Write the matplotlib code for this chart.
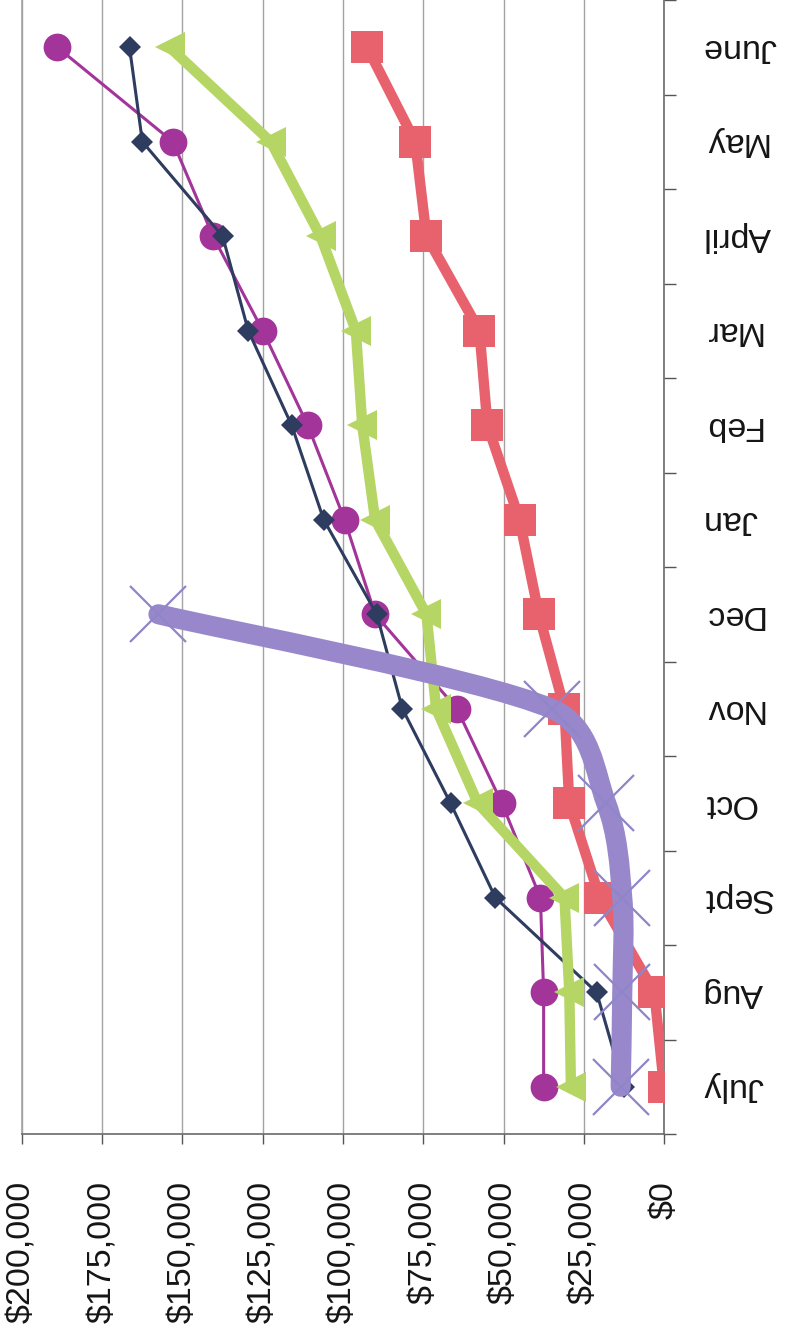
import matplotlib
matplotlib.use('Agg')
import matplotlib.pyplot as plt
import numpy as np
from matplotlib.path import Path
from matplotlib.patches import PathPatch
from matplotlib.ticker import FuncFormatter

plt.rcParams['font.family'] = ['Liberation Sans', 'DejaVu Sans']

months = ['July', 'Aug', 'Sept', 'Oct', 'Nov', 'Dec',
          'Jan', 'Feb', 'Mar', 'April', 'May', 'June']
navy = [12500, 21000, 52500, 66500, 81500, 89500,
        106000, 116000, 129500, 137500, 162500, 166500]
magenta = [37500, 37500, 38500, 50500, 64500, 90000,
           99500, 111000, 125000, 140500, 153000, 189000]
green = [29000, 29500, 31000, 58000, 71000, 74000,
         90000, 94000, 96000, 107000, 122500, 154000]
pink = [0, 3000, 20000, 29500, 31000, 39000,
        45000, 55000, 57500, 74000, 77500, 92500]
purple = [13500, 13000, 13000, 18000, 35000, 157500]
value_ticks = list(range(0, 200001, 25000))


def smooth_path(ax, xs, ys):
    # smoothed line: bezier through the points, handles worked out in pixels
    q = ax.transData.transform(np.column_stack([xs, ys]).astype(float))
    n = len(q)
    tang = []
    for i in range(n):
        a = q[i - 1] if i > 0 else q[i]
        b = q[i + 1] if i + 1 < n else q[i]
        tang.append((b - a) / 2.0)
    verts = [q[0]]
    codes = [Path.MOVETO]
    for i in range(n - 1):
        seg = np.hypot(*(q[i + 1] - q[i]))
        h = []
        for t in (tang[i], tang[i + 1]):
            ln = np.hypot(*t)
            if ln > 0:
                h.append(t / ln * min(ln / 3.0, seg * 0.4))
            else:
                h.append(t)
        verts += [q[i] + h[0], q[i + 1] - h[1], q[i + 1]]
        codes += [Path.CURVE4] * 3
    verts = ax.transData.inverted().transform(np.array(verts))
    return Path(verts, codes)


fig = plt.figure(figsize=(7.88, 13.34), dpi=100)
ax = fig.add_axes([22 / 788, 200 / 1334, 642 / 788, 1134 / 1334])
ax.set_xlim(200000, 0)
ax.set_ylim(-0.5, 11.5)

series = [
    (magenta, 'o', 20, '#A3359A', 2.2, 2),
    (navy, 'D', 11.5, '#2E3D5F', 2.2, 3),
    (green, '<', 21, '#B5D565', 7.5, 4),
    (pink, 's', 23, '#E8626D', 7.5, 5),
]
for vals, mk, ms, col, lw, z in series:
    ypos = np.arange(len(vals))
    ax.plot(vals, ypos, color=col, lw=lw, solid_capstyle='round', solid_joinstyle='round',
            marker=mk, markersize=ms, markerfacecolor=col, markeredgecolor=col,
            markeredgewidth=0, zorder=z)

ypos = np.arange(len(purple))
ax.add_patch(PathPatch(smooth_path(ax, purple, ypos), fill=False, edgecolor='#9987CC', lw=14.5,
                       capstyle='round', joinstyle='round', zorder=6))
ax.plot(purple, ypos, linestyle='none', marker='x', markersize=41,
        markeredgecolor='#8E86C8', markeredgewidth=1.6, zorder=6.1)

ax.set_xticks(value_ticks)
ax.xaxis.set_major_formatter(FuncFormatter(lambda v, p: '${:,.0f}'.format(v)))
ax.tick_params(axis='x', direction='out', length=7, width=1, color='#555555',
               pad=27, labelsize=24.5, labelrotation=90, labelcolor='#151515')

ax.yaxis.tick_right()
ax.set_yticks(range(len(months)))
ax.set_yticklabels(months, rotation=180, va='center', ha='left')
ax.set_yticks(np.arange(-0.5, len(months), 1), minor=True)
ax.tick_params(axis='y', which='major', length=0, pad=28, labelsize=24.5,
               labelcolor='#151515')
ax.tick_params(axis='y', which='minor', direction='out', length=8.5, width=1,
               color='#555555', left=False, right=True)

ax.grid(axis='x', color='#a3a3a3', linewidth=1.0)
ax.set_axisbelow(True)
ax.spines['top'].set_visible(False)
ax.spines['left'].set_color('#a3a3a3')
ax.spines['left'].set_linewidth(1.2)
ax.spines['bottom'].set_color('#6a6a6a')
ax.spines['bottom'].set_linewidth(1.2)
ax.spines['right'].set_color('#6a6a6a')
ax.spines['right'].set_linewidth(1.2)

plt.savefig('out.png', dpi=100)
